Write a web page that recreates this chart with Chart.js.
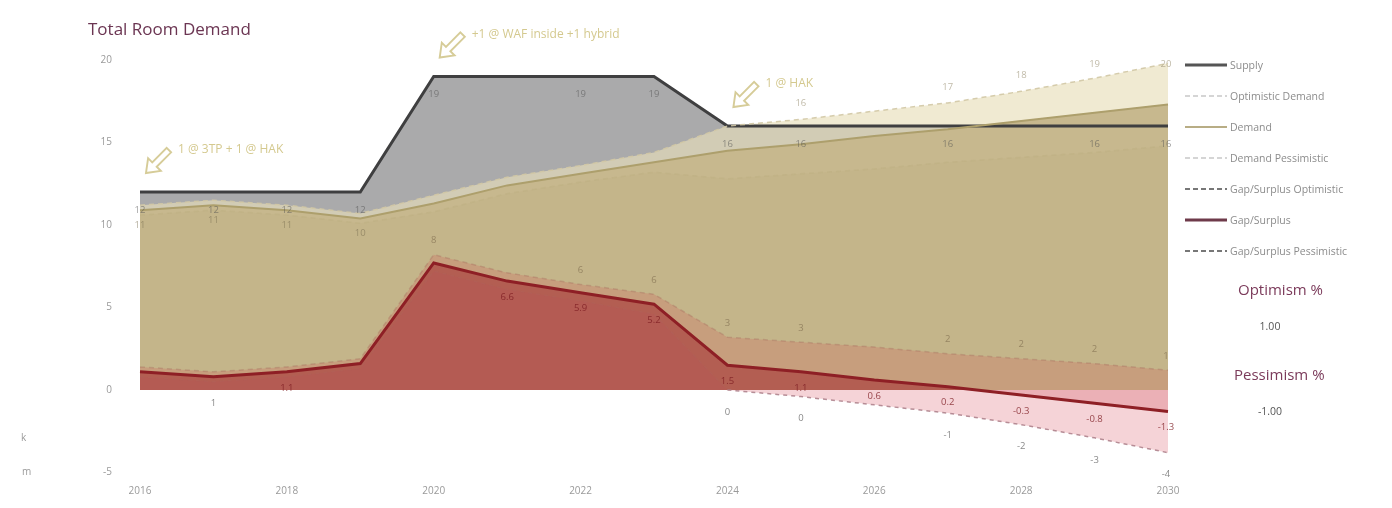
<!DOCTYPE html>
<html>
<head>
<meta charset="utf-8">
<title>Total Room Demand</title>
<script src="https://cdn.jsdelivr.net/npm/chart.js@4.4.1/dist/chart.umd.min.js"></script>
<style>
  html, body { margin: 0; padding: 0; background: #ffffff; }
  #wrap { position: relative; width: 1392px; height: 508px; overflow: hidden;
          font-family: "Open Sans", "Noto Sans", "DejaVu Sans", sans-serif; }
  #chart { position: absolute; left: 0; top: 0; }
  #title { position: absolute; left: 88px; top: 17px; font-size: 17px; color: #6b3552; white-space: nowrap; }
  .lg-row { position: absolute; left: 1185px; height: 14px; display: flex; align-items: center;
            font-size: 10.5px; color: #8c8c8c; white-space: nowrap; }
  .lg-row svg { margin-right: 3px; }
  .panel-h { position: absolute; font-size: 15px; color: #7b3a5a; white-space: nowrap; }
  .panel-v { position: absolute; font-size: 10.5px; color: #555555; white-space: nowrap; transform: translateX(-50%); }
  .edge { position: absolute; font-size: 10px; color: #9a9a9a; }
</style>
</head>
<body>
<div id="wrap">
  <canvas id="chart" width="1392" height="508"></canvas>
  <div id="title">Total Room Demand</div>
  <div id="legend"></div>
  <div class="panel-h" style="left:1238px; top:279px;">Optimism %</div>
  <div class="panel-v" style="left:1270px; top:319px;">1.00</div>
  <div class="panel-h" style="left:1234px; top:364px;">Pessimism %</div>
  <div class="panel-v" style="left:1270px; top:404px;">-1.00</div>
  <div class="edge" style="left:21px; top:430px;">k</div>
  <div class="edge" style="left:22px; top:464px;">m</div>
</div>
<script>
// ---- data (rooms, yearly) ----
const years = ['2016','2017','2018','2019','2020','2021','2022','2023','2024','2025','2026','2027','2028','2029','2030'];
const xTickLabels = ['2016','2018','2020','2022','2024','2026','2028','2030'];
const yTickValues = [-5, 0, 5, 10, 15, 20];

const supply            = [12, 12, 12, 12, 19, 19, 19, 19, 16, 16, 16, 16, 16, 16, 16];
const demand            = [10.9, 11.2, 10.9, 10.4, 11.3, 12.4, 13.1, 13.8, 14.5, 14.9, 15.4, 15.8, 16.3, 16.8, 17.3];
const demandOptimistic  = [11.2, 11.5, 11.2, 10.7, 11.8, 12.9, 13.6, 14.4, 16.0, 16.4, 16.9, 17.4, 18.1, 18.9, 19.8];
const demandPessimistic = [10.6, 10.9, 10.6, 10.1, 10.8, 11.9, 12.6, 13.2, 12.8, 13.1, 13.4, 13.8, 14.1, 14.4, 14.8];
const gapSurplus        = [1.1, 0.8, 1.1, 1.6, 7.7, 6.6, 5.9, 5.2, 1.5, 1.1, 0.6, 0.2, -0.3, -0.8, -1.3];
const gapOptimistic     = [1.4, 1.1, 1.4, 1.9, 8.2, 7.1, 6.4, 5.8, 3.2, 2.9, 2.6, 2.2, 1.9, 1.6, 1.2];
const gapPessimistic    = [0.8, 0.5, 0.8, 1.3, 7.2, 6.1, 5.4, 4.6, 0.0, -0.4, -0.9, -1.4, -2.1, -2.9, -3.8];

// capacity changes called out on the supply line
const supplyNotes = [
  { year: '2016', text: '1 @ 3TP + 1 @ HAK' },
  { year: '2020', text: '+1 @ WAF inside +1 hybrid' },
  { year: '2024', text: '1 @ HAK' }
];

const FONT = '"Open Sans", "Noto Sans", "DejaVu Sans", sans-serif';

// dashed scenario lines stay faint while they run inside the filled areas
const belowZero = (c) => c.p0.parsed.y <= 0.01 && c.p1.parsed.y <= 0.01;

// Datasets: index 0 is painted on top, the last one at the bottom.
const datasets = [
  { label: 'Gap/Surplus', data: gapSurplus, borderColor: '#8e1f25', borderWidth: 3,
    fill: { target: 'origin', above: 'rgba(162,42,48,0.55)', below: 'rgba(215,110,120,0.35)' },
    legendOrder: 5, legendColor: '#6e3a4a', legendWidth: 3, legendDash: null,
    valueLabels: { idx: [2,5,6,7,8,9,10,11,12,13,14], digits: 1, dy: 16, color: 'rgba(125,28,34,0.8)' } },
  { label: 'Gap/Surplus Optimistic', data: gapOptimistic, borderColor: 'rgba(160,95,85,0.3)', borderWidth: 1.5,
    borderDash: [5, 4], fill: { target: 'origin', above: 'rgba(205,115,100,0.35)', below: 'rgba(0,0,0,0)' },
    legendOrder: 4, legendColor: '#777777', legendWidth: 2, legendDash: '5,3',
    valueLabels: { idx: [4,6,7,8,9,11,12,13,14], digits: 0, dy: -14, color: 'rgba(105,85,60,0.5)' } },
  { label: 'Gap/Surplus Pessimistic', data: gapPessimistic, borderColor: 'rgba(175,125,135,0.8)', borderWidth: 1.5,
    borderDash: [4, 4],
    segment: { borderColor: c => belowZero(c) ? 'rgba(170,125,135,0.85)' : 'rgba(170,110,110,0.15)' },
    fill: { target: 'origin', above: 'rgba(225,140,150,0.22)', below: 'rgba(230,150,160,0.42)' },
    legendOrder: 6, legendColor: '#777777', legendWidth: 2, legendDash: '5,3',
    valueLabels: { idx: [1,8,9,11,12,13,14], digits: 0, dy: 22, color: 'rgba(85,85,85,0.7)' } },
  { label: 'Demand Pessimistic', data: demandPessimistic, borderColor: 'rgba(190,175,130,0.5)', borderWidth: 1.5,
    borderDash: [5, 4], fill: { target: 'origin', above: 'rgba(150,130,80,0.05)', below: 'rgba(0,0,0,0)' },
    legendOrder: 3, legendColor: '#c8c8c8', legendWidth: 1.5, legendDash: '5,3',
    valueLabels: { idx: [], digits: 0, dy: 14, color: 'rgba(120,110,80,0.5)' } },
  { label: 'Demand', data: demand, borderColor: '#ad9f6c', borderWidth: 2,
    fill: { target: 'origin', above: 'rgb(199,184,142)', below: 'rgba(0,0,0,0)' },
    legendOrder: 2, legendColor: '#b8ad85', legendWidth: 2, legendDash: null,
    valueLabels: { idx: [0,1,2,3], digits: 0, dy: 15, color: 'rgba(120,110,80,0.55)' } },
  { label: 'Optimistic Demand', data: demandOptimistic, borderColor: 'rgba(210,200,165,0.9)', borderWidth: 1.5,
    borderDash: [5, 4], fill: { target: 'origin', above: 'rgba(232,222,186,0.65)', below: 'rgba(0,0,0,0)' },
    legendOrder: 1, legendColor: '#c8c8c8', legendWidth: 1.5, legendDash: '5,3',
    valueLabels: { idx: [9,11,12,13,14], digits: 0, dy: -16, color: 'rgba(150,140,110,0.6)' } },
  { label: 'Supply', data: supply, borderColor: '#3f3f40', borderWidth: 3,
    fill: { target: 'origin', above: 'rgb(170,170,171)', below: 'rgba(0,0,0,0)' },
    legendOrder: 0, legendColor: '#555555', legendWidth: 3, legendDash: null,
    valueLabels: { idx: [0,1,2,3,4,6,7,8,9,11,13,14], digits: 0, dy: 18, color: 'rgba(80,80,80,0.55)' } }
];

function fmt(v, digits) {
  const r = Number(v.toFixed(digits));
  return (Object.is(r, -0) ? 0 : r).toFixed(digits);
}

// small value tags next to the points
const valueLabelPlugin = {
  id: 'valueLabels',
  afterDatasetsDraw(chart) {
    const { ctx, chartArea } = chart;
    ctx.save();
    ctx.font = '9.5px ' + FONT;
    ctx.textAlign = 'center';
    ctx.textBaseline = 'middle';
    chart.data.datasets.forEach((ds, di) => {
      const cfg = ds.valueLabels;
      if (!cfg) return;
      const meta = chart.getDatasetMeta(di);
      ctx.fillStyle = cfg.color;
      cfg.idx.forEach(i => {
        const pt = meta.data[i];
        if (!pt) return;
        let y = pt.y + cfg.dy;
        y = Math.max(chartArea.top + 4, Math.min(chartArea.bottom + 2, y));
        const x = Math.min(pt.x, chartArea.right - 2);
        ctx.fillText(fmt(ds.data[i], cfg.digits), x, y);
      });
    });
    ctx.restore();
  }
};

// hollow arrows with notes above the supply steps
const supplyNotePlugin = {
  id: 'supplyNotes',
  afterDraw(chart) {
    const { ctx, scales } = chart;
    ctx.save();
    supplyNotes.forEach(n => {
      const i = years.indexOf(n.year);
      const x = scales.x.getPixelForValue(i);
      const y = scales.y.getPixelForValue(supply[i]);
      // arrow pointing down-left
      ctx.save();
      ctx.translate(x + 17, y - 30);
      ctx.rotate(Math.PI / 4);
      ctx.scale(1.2, 1.2);
      ctx.beginPath();
      ctx.moveTo(-2.6, -14);
      ctx.lineTo(2.6, -14);
      ctx.lineTo(2.6, 3);
      ctx.lineTo(7.5, 3);
      ctx.lineTo(0, 13);
      ctx.lineTo(-7.5, 3);
      ctx.lineTo(-2.6, 3);
      ctx.closePath();
      ctx.lineWidth = 1.6;
      ctx.strokeStyle = '#d6cc98';
      ctx.stroke();
      ctx.restore();
      ctx.font = '12px ' + FONT;
      ctx.fillStyle = '#d4c98f';
      ctx.textAlign = 'left';
      ctx.textBaseline = 'middle';
      ctx.fillText(n.text, x + 38, y - 42);
    });
    ctx.restore();
  }
};

const chart = new Chart(document.getElementById('chart'), {
  type: 'line',
  data: { labels: years, datasets: datasets },
  options: {
    responsive: false,
    animation: false,
    layout: { padding: { left: 0, right: 224, top: 60, bottom: 0 } },
    elements: { point: { radius: 0, hoverRadius: 0 }, line: { tension: 0, borderJoinStyle: 'miter' } },
    plugins: {
      legend: { display: false },
      tooltip: { enabled: false },
      filler: { drawTime: 'beforeDatasetsDraw', propagate: false }
    },
    scales: {
      x: {
        offset: false,
        grid: { display: false, drawTicks: false },
        border: { display: false },
        ticks: {
          autoSkip: false, maxRotation: 0, padding: 13, color: '#9a9a9a',
          font: { size: 10, family: FONT },
          callback: function (v) {
            const l = this.getLabelForValue(v);
            return xTickLabels.includes(l) ? l : '';
          }
        },
        afterFit(s) { s.height = 35.5; }
      },
      y: {
        min: -5, max: 20,
        afterBuildTicks(s) { s.ticks = yTickValues.map(v => ({ value: v })); },
        grid: { display: false, drawTicks: false },
        border: { display: false },
        ticks: { padding: 28, color: '#9a9a9a', font: { size: 10, family: FONT } },
        afterFit(s) { s.width = 140; }
      }
    }
  },
  plugins: [valueLabelPlugin, supplyNotePlugin]
});

// legend on the right, built from the datasets
const rowCenters = [65, 96, 127, 158, 189, 220, 251];
const legendEl = document.getElementById('legend');
chart.data.datasets
  .slice()
  .sort((a, b) => a.legendOrder - b.legendOrder)
  .forEach((ds, k) => {
    const row = document.createElement('div');
    row.className = 'lg-row';
    row.style.top = (rowCenters[k] - 7) + 'px';
    const dash = ds.legendDash ? ` stroke-dasharray="${ds.legendDash}"` : '';
    row.innerHTML =
      `<svg width="42" height="6"><line x1="0" y1="3" x2="42" y2="3" stroke="${ds.legendColor}" stroke-width="${ds.legendWidth}"${dash}/></svg>` +
      `<span>${ds.label}</span>`;
    legendEl.appendChild(row);
  });
</script>
</body>
</html>
